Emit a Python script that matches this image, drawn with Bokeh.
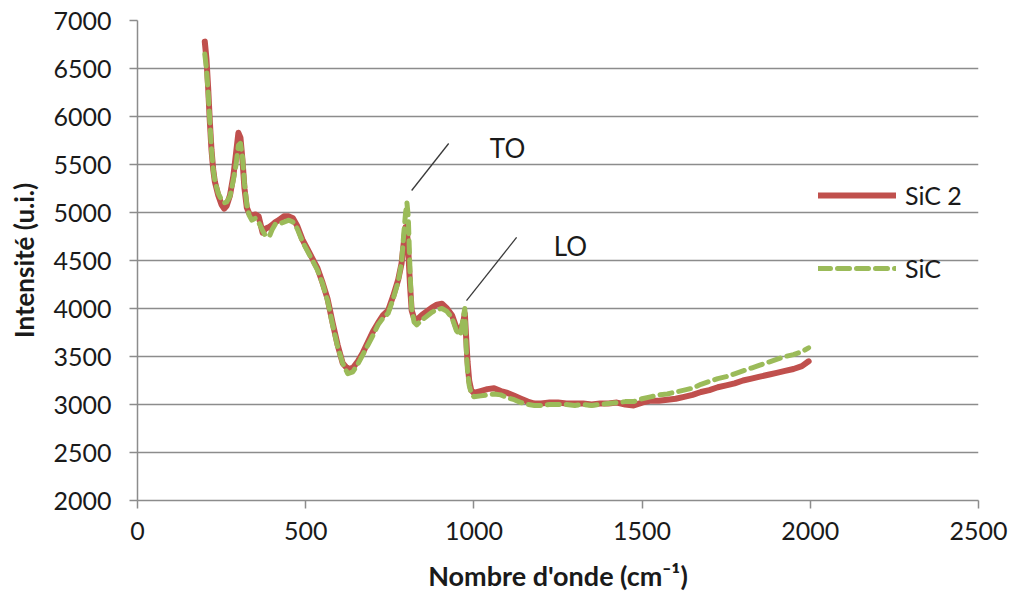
from bokeh.plotting import figure
from bokeh.models import FixedTicker, Legend, LegendItem, Label, ColumnDataSource, Range1d
from bokeh.embed import file_html
from bokeh.resources import INLINE

# ---- data ----
wavenumber = [200, 205, 210, 215, 220, 225, 230, 240, 250, 258, 265, 275, 285, 293, 300, 306,
              312, 318, 325, 332, 340, 350, 360, 372, 380, 392, 400, 410, 420, 435, 450, 462,
              475, 490, 505, 520, 535, 550, 565, 580, 595, 610, 625, 640, 655, 670, 685, 700,
              715, 730, 745, 760, 775, 785, 792, 797, 801, 805, 810, 815, 822, 830, 845, 860,
              875, 890, 905, 920, 935, 948, 960, 968, 973, 977, 981, 986, 992, 1000, 1020, 1040,
              1060, 1080, 1100, 1120, 1140, 1160, 1180, 1200, 1225, 1250, 1275, 1300, 1325, 1350,
              1375, 1400, 1425, 1450, 1475, 1500, 1525, 1550, 1575, 1600, 1625, 1650, 1675, 1700,
              1725, 1750, 1775, 1800, 1825, 1850, 1875, 1900, 1925, 1950, 1975, 1995]

sic2 = [6780, 6600, 6300, 5950, 5650, 5450, 5320, 5180, 5080, 5040, 5070, 5180, 5380, 5620, 5830, 5780,
        5550, 5250, 5050, 4990, 4960, 4980, 4960, 4790, 4830, 4850, 4870, 4900, 4920, 4960, 4960, 4940,
        4860, 4720, 4620, 4520, 4420, 4270, 4100, 3850, 3620, 3430, 3370, 3380, 3450, 3540, 3650, 3760,
        3850, 3930, 3980, 4130, 4300, 4470, 4700, 4850, 4800, 4600, 4250, 3980, 3900, 3880, 3930, 3970,
        4010, 4040, 4050, 4000, 3930, 3800, 3780, 3850, 3950, 3700, 3450, 3250, 3150, 3120, 3140, 3160,
        3170, 3140, 3120, 3090, 3060, 3030, 3010, 3010, 3020, 3020, 3010, 3010, 3010, 3000,
        3010, 3010, 3020, 3000, 2990, 3020, 3040, 3040, 3050, 3060, 3080, 3100, 3130, 3150,
        3180, 3200, 3220, 3250, 3270, 3290, 3310, 3330, 3350, 3370, 3400, 3450]

sic = [6650, 6500, 6250, 5950, 5650, 5450, 5330, 5200, 5130, 5100, 5110, 5170, 5340, 5500, 5700, 5720,
       5580, 5300, 5080, 4970, 4920, 4940, 4900, 4810, 4760, 4750, 4820, 4880, 4880, 4900, 4920, 4900,
       4830, 4700, 4600, 4500, 4400, 4260, 4080, 3830, 3600, 3430, 3320, 3340, 3420, 3520, 3620, 3720,
       3830, 3900, 3950, 4100, 4280, 4480, 4800, 5000, 5100, 4950, 4400, 4000, 3860, 3830, 3880, 3920,
       3960, 3990, 4000, 3970, 3900, 3770, 3720, 3900, 4000, 3600, 3350, 3200, 3120, 3080, 3090, 3100,
       3110, 3100, 3070, 3050, 3020, 3000, 2990, 2990, 3000, 3000, 3000, 2990, 3000, 2990,
       3000, 3010, 3020, 3030, 3030, 3060, 3080, 3100, 3110, 3130, 3150, 3170, 3210, 3240,
       3270, 3290, 3320, 3350, 3380, 3410, 3440, 3470, 3500, 3520, 3550, 3590]

series_names = ["SiC 2", "SiC"]
x_ticks = [0, 500, 1000, 1500, 2000, 2500]
y_ticks = [2000, 2500, 3000, 3500, 4000, 4500, 5000, 5500, 6000, 6500, 7000]

# peak annotations: label text, label anchor, leader line start/end (data units)
ann_text = ["TO", "LO"]
ann_label_x = [1100, 1287]
ann_label_y = [5667, 4656]
ann_x0 = [815, 978]
ann_y0 = [5229, 4083]
ann_x1 = [925, 1127]
ann_y1 = [5719, 4740]

FONT = "Lato"
TXT = "#1a1a1a"
GRID = "#8c8c8c"
RED = "#C0504D"
GREEN = "#9BBB59"

p = figure(width=1010, height=598, output_backend="svg", toolbar_location=None,
           x_range=Range1d(0, 2500), y_range=Range1d(2000, 7000),
           frame_width=841, frame_height=480,
           min_border_left=137, min_border_right=32, min_border_top=20, min_border_bottom=98)
p.outline_line_color = None
p.background_fill_color = "white"
p.border_fill_color = "white"

src = ColumnDataSource(dict(x=wavenumber, a=sic2, b=sic))
r_red = p.line("x", "a", source=src, line_color=RED, line_width=6, line_join="round", line_cap="round")
r_green = p.line("x", "b", source=src, line_color=GREEN, line_width=5, line_dash="12 7",
                 line_join="round", line_cap="round")

# axes
p.xaxis.ticker = FixedTicker(ticks=x_ticks)
p.yaxis.ticker = FixedTicker(ticks=y_ticks)
for ax in (p.xaxis[0], p.yaxis[0]):
    ax.axis_line_color = GRID
    ax.axis_line_width = 1.5
    ax.major_tick_line_color = GRID
    ax.major_tick_line_width = 1.5
    ax.major_tick_out = 8
    ax.major_tick_in = 0
    ax.minor_tick_line_color = None
    ax.major_label_text_font = FONT
    ax.major_label_text_font_size = "25px"
    ax.major_label_text_color = TXT
    ax.axis_label_text_font = FONT
    ax.axis_label_text_font_style = "bold"
    ax.axis_label_text_color = TXT
p.xaxis.major_label_standoff = 13
p.yaxis.major_label_standoff = 18
p.xaxis.axis_label = "Nombre d'onde (cm\u207b\u00b9)"
p.yaxis.axis_label = "Intensit\u00e9 (u.i.)"
p.xaxis.axis_label_text_font_size = "27px"
p.yaxis.axis_label_text_font_size = "26px"
p.xaxis.axis_label_standoff = 16
p.yaxis.axis_label_standoff = 10

p.xgrid.grid_line_color = None
p.ygrid.grid_line_color = GRID
p.ygrid.grid_line_width = 1.5

# annotations
seg_src = ColumnDataSource(dict(x0=ann_x0, y0=ann_y0, x1=ann_x1, y1=ann_y1))
p.segment("x0", "y0", "x1", "y1", source=seg_src, line_color="#3a3a3a", line_width=1.3)
for t, lx, ly in zip(ann_text, ann_label_x, ann_label_y):
    p.add_layout(Label(x=lx, y=ly, text=t, text_font=FONT, text_font_size="26px",
                       text_color=TXT, text_align="center", text_baseline="middle"))

legend = Legend(items=[LegendItem(label=series_names[0], renderers=[r_red]),
                       LegendItem(label=series_names[1], renderers=[r_green])],
                location=(681, 217), orientation="vertical",
                glyph_width=78, glyph_height=22, label_standoff=9, spacing=43,
                padding=0, margin=0, label_text_font=FONT, label_text_font_size="25px",
                label_text_color=TXT, background_fill_alpha=0, border_line_alpha=0)
p.add_layout(legend)

open("out.html", "w").write(file_html(p, INLINE))
